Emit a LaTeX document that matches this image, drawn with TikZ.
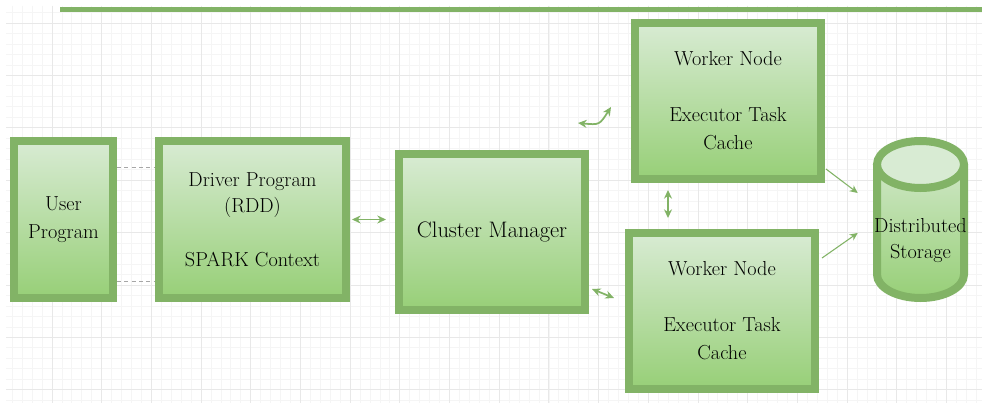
\documentclass[tikz,border=0pt]{standalone}
\usetikzlibrary{arrows.meta,calc}
\definecolor{EdgeClr}{HTML}{82B366}
\definecolor{TopClr}{HTML}{D8EBD3}
\definecolor{BotClr}{HTML}{97CF77}
\definecolor{GridClr}{HTML}{E8E8E8}
\definecolor{SubGridClr}{HTML}{F5F5F5}

\begin{document}
\begin{tikzpicture}[x=0.75pt,y=-0.75pt,
  blockbox/.style={draw=EdgeClr,line width=6pt,top color=TopClr,bottom color=BotClr,
    align=center,inner sep=0pt,minimum width=139.5pt,minimum height=117pt,
    font=\fontsize{15.2}{21}\selectfont},
  link/.style={EdgeClr,line width=1.3pt,{Stealth[length=6.5pt,width=6pt]}-{Stealth[length=6.5pt,width=6pt]}},
  feed/.style={EdgeClr,line width=0.8pt,-{Stealth[length=6pt,width=5.5pt]}},
  guide/.style={gray!70,line width=0.6pt,dash pattern=on 3pt off 2.5pt}]

\useasboundingbox[fill=white] (0,0) rectangle (982,403);

\begin{scope}
\clip (6,6) rectangle (982,403);
\foreach \k in {-5,...,95} \draw[SubGridClr,line width=0.6pt] ({52+9.938*\k},6) -- ++(0,397);
\foreach \k in {-2,...,37} \draw[SubGridClr,line width=0.6pt] (6,{23+10.48*\k}) -- ++(976,0);
\foreach \k in {-1,...,19} \draw[GridClr,line width=0.7pt] ({52+49.69*\k},6) -- ++(0,397);
\foreach \k in {-1,...,8} \draw[GridClr,line width=0.7pt] (6,{23+52.4*\k}) -- ++(976,0);
\end{scope}

\draw[EdgeClr,line width=3.75pt] (60,9.5) -- (982,9.5);

\node[blockbox,minimum width=74.25pt,minimum height=117.75pt] (usr) at (63.5,219.5) {User\\Program};
\node[blockbox,minimum width=140.25pt,minimum height=117.75pt,font=\fontsize{15.2}{19.5}\selectfont] (drv) at (252.5,219.5) {Driver Program\\(RDD)\\[21pt]SPARK Context};
\node[blockbox,font=\fontsize{16.8}{21}\selectfont] (cm) at (492,232) {Cluster Manager};
\node[blockbox] (wk1) at (728,101) {Worker Node\\[21pt]Executor Task\\Cache};
\node[blockbox] (wk2) at (722,311) {Worker Node\\[21pt]Executor Task\\Cache};

\path[top color=TopClr,bottom color=BotClr] (877,164.5) -- (877,274.5)
  arc[start angle=180,end angle=0,x radius=43.5,y radius=23.5] -- (964,164.5)
  arc[start angle=0,end angle=-180,x radius=43.5,y radius=23.5] -- cycle;
\draw[EdgeClr,line width=6pt] (877,164.5) -- (877,274.5)
  arc[start angle=180,end angle=0,x radius=43.5,y radius=23.5] -- (964,164.5);
\draw[EdgeClr,line width=6pt,fill=TopClr] (920.5,164.5) ellipse[x radius=43.5,y radius=23.5];
\node[align=center,inner sep=0pt,minimum width=71.25pt,font=\fontsize{15.2}{19.5}\selectfont] (st) at (920.5,241) {Distributed\\Storage};

\draw[guide] ($(usr.north east)+(0,30)$) -- ($(drv.north west)+(0,30)$);
\draw[guide] ($(usr.south east)+(0,-21)$) -- ($(drv.south west)+(0,-21)$);

\draw[link] ($(drv.east)+(2,0)$) -- ($(drv.east -| cm.west)+(-9,0)$);
\draw[link] ($(cm.north east)+(-11,-27)$) .. controls ($(cm.north east)+(10.5,-25)$) .. ($(wk1.west)+(-20,6)$);
\draw[link] ($(cm.east)+(3,57)$) -- ($(wk2.west)+(-11,-13)$);
\draw[link] ($(wk1.south west)+(37,7)$) -- ($(wk2.north west)+(43,-11)$);

\draw[feed] ($(wk1.south east)+(1,-14)$) -- ($(st.west)+(-15,-48)$);
\draw[feed] ($(wk2.north east)+(3,29)$) -- ($(st.west)+(-15,-8)$);

\end{tikzpicture}
\end{document}
